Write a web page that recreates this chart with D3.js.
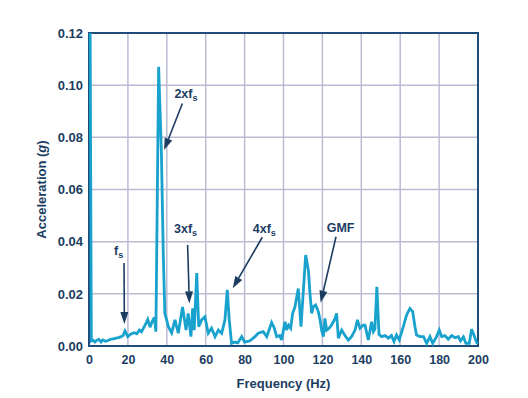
<!DOCTYPE html>
<html><head><meta charset="utf-8">
<script src="https://cdn.jsdelivr.net/npm/d3@7"></script>
<style>
html,body{margin:0;padding:0;background:#fff;}
text{font-family:"Liberation Sans",Arial,Helvetica,sans-serif;font-weight:bold;fill:#1c3d62;}
</style></head>
<body><svg id="c" width="528" height="398"></svg>
<script>
// Spectrum data (frequency in Hz, acceleration in g)
const freq = [0.6,1.2,1.9,3.0,3.6,5.0,6.2,7.0,8.5,10.0,11.3,12.6,13.9,15.2,16.5,17.5,18.5,19.9,21.6,23.3,24.6,25.9,27.0,28.4,29.3,30.2,31.4,32.4,33.6,34.4,35.8,37.2,38.2,39.0,40.8,42.5,44.2,45.9,48.1,49.9,51.0,52.4,53.3,54.1,55.4,56.4,57.9,59.6,61.3,63.0,64.8,66.5,68.2,69.9,71.1,72.1,73.3,75.0,76.5,78.5,80.0,82.8,85.3,87.0,89.6,91.4,93.9,95.2,96.5,98.0,99.0,100.8,101.6,102.6,103.7,104.7,105.9,107.6,109.0,111.4,112.8,113.6,114.5,115.3,116.5,117.9,118.8,119.6,120.5,121.3,122.2,123.4,124.7,126.5,127.3,128.2,129.9,131.6,133.3,135.0,136.8,138.0,139.3,141.0,141.9,143.6,145.3,146.2,147.0,148.0,149.1,150.4,152.2,153.9,155.5,156.8,158.1,159.5,161.6,163.3,165.0,166.4,167.6,168.4,170.2,172.0,173.6,175.3,176.7,178.7,180.1,181.3,183.0,184.7,186.5,188.2,189.9,191.0,192.5,193.8,195.5,196.7,197.9,199.3,200.0];
const accel = [0.120,0.0020,0.0023,0.0015,0.0020,0.0026,0.0015,0.0023,0.0018,0.0022,0.0026,0.0027,0.0030,0.0032,0.0036,0.0040,0.0058,0.0036,0.0046,0.0051,0.0047,0.0061,0.0054,0.0074,0.0087,0.0102,0.0072,0.0093,0.0110,0.0055,0.1070,0.0750,0.0350,0.0125,0.0074,0.0050,0.0100,0.0049,0.0150,0.0061,0.0125,0.0036,0.0144,0.0061,0.0280,0.0074,0.0100,0.0112,0.0049,0.0068,0.0036,0.0061,0.0049,0.0100,0.0215,0.0100,0.0010,0.0015,0.0012,0.0036,0.0015,0.0020,0.0036,0.0049,0.0055,0.0036,0.0090,0.0070,0.0036,0.0040,0.0023,0.0093,0.0061,0.0080,0.0068,0.0125,0.0150,0.0220,0.0074,0.0349,0.0290,0.0202,0.0125,0.0150,0.0157,0.0132,0.0100,0.0061,0.0036,0.0106,0.0061,0.0068,0.0080,0.0106,0.0125,0.0030,0.0061,0.0040,0.0023,0.0036,0.0061,0.0100,0.0068,0.0080,0.0080,0.0023,0.0093,0.0055,0.0065,0.0227,0.0045,0.0036,0.0040,0.0030,0.0040,0.0017,0.0042,0.0023,0.0074,0.0119,0.0144,0.0132,0.0074,0.0042,0.0036,0.0036,0.0010,0.0036,0.0010,0.0036,0.0061,0.0036,0.0040,0.0026,0.0040,0.0032,0.0036,0.0020,0.0035,0.0010,0.0010,0.0064,0.0042,0.0013,0.0010];
const xTicks = [0,20,40,60,80,100,120,140,160,180,200];
const yTicks = [0,0.02,0.04,0.06,0.08,0.10,0.12];
const yTickLabels = ["0.00","0.02","0.04","0.06","0.08","0.10","0.12"];
// annotations: label, subscript, text anchor (f,v), arrow from (f,v) to (f,v)
const annLabels = ["f","2xf","3xf","4xf","GMF"];
const annSubs   = ["s","s","s","s",""];
const annText   = [[12.9,0.0349],[43.9,0.0950],[43.7,0.0434],[84.2,0.0434],[122.2,0.0436]];
const annFrom   = [[18.0,0.0318],[48.0,0.0930],[50.7,0.0387],[89.1,0.0417],[127.0,0.0419]];
const annTo     = [[18.2,0.0084],[38.6,0.0751],[51.6,0.0163],[73.9,0.0221],[119.1,0.0166]];

const svg = d3.select("#c");
const L=89, T=33, R=478, B=346;
const x = d3.scaleLinear().domain([0,200]).range([L,R]);
const y = d3.scaleLinear().domain([0,0.12]).range([B,T]);
const navy = "#1c3d62", grid = "#bbbcd4", border="#1f4c78", lineC="#18a2cd";

// grid
svg.append("g").selectAll("line").data(xTicks.slice(1,-1)).join("line")
  .attr("x1",d=>x(d)).attr("x2",d=>x(d)).attr("y1",T).attr("y2",B)
  .attr("stroke",grid).attr("stroke-width",1.5);
svg.append("g").selectAll("line").data(yTicks.slice(1,-1)).join("line")
  .attr("y1",d=>y(d)).attr("y2",d=>y(d)).attr("x1",L).attr("x2",R)
  .attr("stroke",grid).attr("stroke-width",1.5);

// axes labels via d3 axes
const xAxis = svg.append("g").attr("transform",`translate(0,${B})`)
  .call(d3.axisBottom(x).tickValues(xTicks).tickSize(0).tickPadding(9).tickFormat(d3.format("d")));
xAxis.select(".domain").remove();
xAxis.selectAll("text").style("font-size","12.5px").attr("fill",navy);
const yAxis = svg.append("g").attr("transform",`translate(${L},0)`)
  .call(d3.axisLeft(y).tickValues(yTicks).tickSize(0).tickPadding(6).tickFormat((d,i)=>yTickLabels[i]));
yAxis.select(".domain").remove();
yAxis.selectAll("text").style("font-size","13px").attr("fill",navy);

// frame
svg.append("rect").attr("x",L).attr("y",T).attr("width",R-L).attr("height",B-T)
  .attr("fill","none").attr("stroke",border).attr("stroke-width",2);

// data line
svg.append("path").datum(freq.map((f,i)=>[f,accel[i]]))
  .attr("fill","none").attr("stroke",lineC).attr("stroke-width",2.8)
  .attr("stroke-linejoin","miter").attr("stroke-miterlimit",3)
  .attr("d",d3.line().x(d=>x(d[0])).y(d=>y(d[1])));

// annotations
annLabels.forEach((lab,i)=>{
  const t = svg.append("text").attr("x",x(annText[i][0])).attr("y",y(annText[i][1]))
    .style("font-size","12.5px").attr("fill",navy);
  t.append("tspan").text(lab);
  if(annSubs[i]) t.append("tspan").attr("dy",3).style("font-size","9px").text(annSubs[i]);
  const x1=x(annFrom[i][0]), y1=y(annFrom[i][1]), x2=x(annTo[i][0]), y2=y(annTo[i][1]);
  const ang=Math.atan2(y2-y1,x2-x1), hl=12, hw=4;
  const bx=x2-hl*Math.cos(ang), by=y2-hl*Math.sin(ang);
  svg.append("line").attr("x1",x1).attr("y1",y1).attr("x2",bx).attr("y2",by)
    .attr("stroke",navy).attr("stroke-width",1.6);
  const px=-Math.sin(ang)*hw, py=Math.cos(ang)*hw;
  svg.append("path").attr("d",`M${x2},${y2}L${bx+px},${by+py}L${bx-px},${by-py}Z`).attr("fill",navy);
});

// axis titles
svg.append("text").attr("x",(L+R)/2).attr("y",388).attr("text-anchor","middle")
  .style("font-size","13px").attr("fill",navy).text("Frequency (Hz)");
const yt = svg.append("text").attr("transform",`translate(46,${(T+B)/2}) rotate(-90)`)
  .attr("text-anchor","middle").style("font-size","13px").attr("fill",navy);
yt.append("tspan").text("Acceleration (");
yt.append("tspan").style("font-style","italic").text("g");
yt.append("tspan").text(")");
</script></body></html>
